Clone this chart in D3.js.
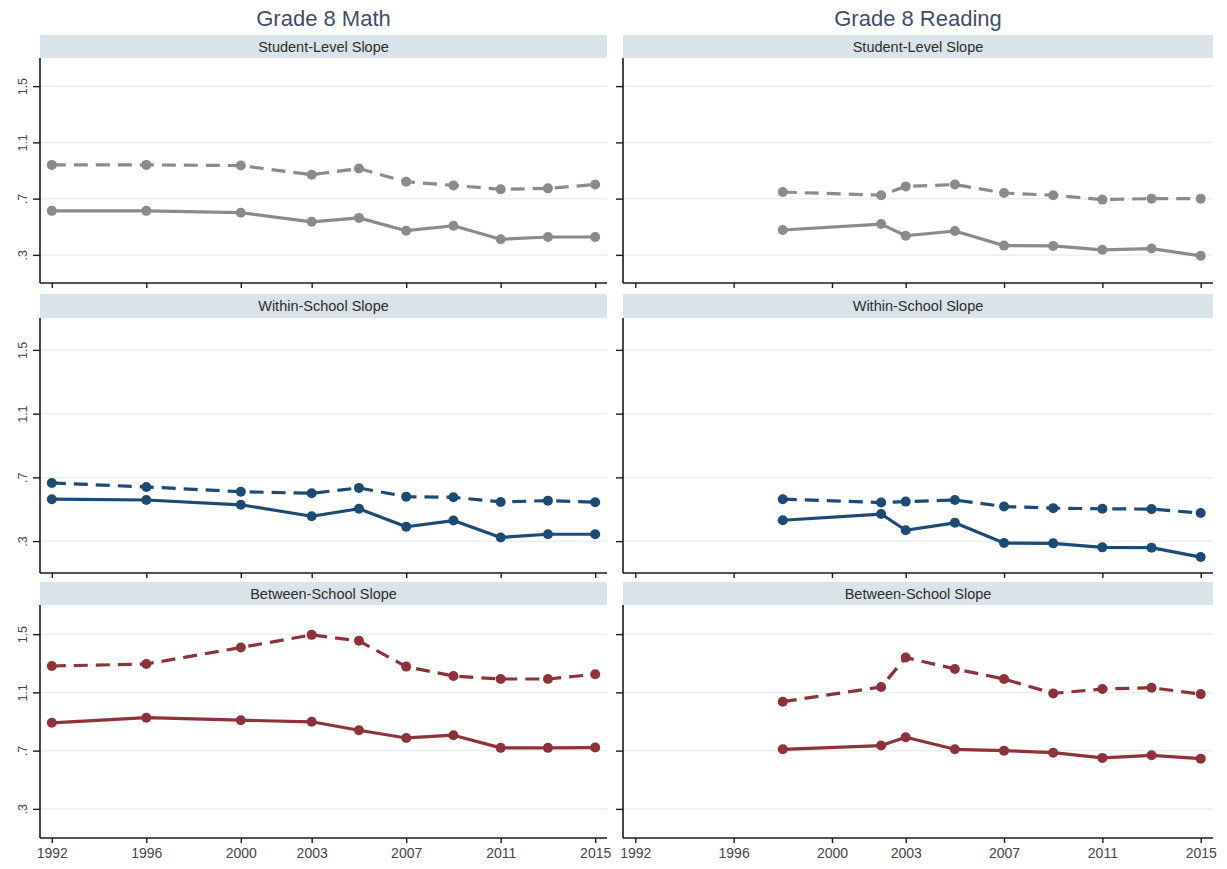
<!DOCTYPE html>
<html>
<head>
<meta charset="utf-8">
<script src="https://cdn.jsdelivr.net/npm/d3@7"></script>
<style>
  html, body { margin: 0; padding: 0; background: #fff; }
  svg { display: block; font-family: "Liberation Sans", Arial, sans-serif; }
</style>
</head>
<body>
<svg id="chart" width="1227" height="869"></svg>
<script>
// ---- data ----
const columns = ["Grade 8 Math", "Grade 8 Reading"];
const measures = ["Student-Level Slope", "Within-School Slope", "Between-School Slope"];
const mathYears = [1992, 1996, 2000, 2003, 2005, 2007, 2009, 2011, 2013, 2015];
const readingYears = [1998, 2002, 2003, 2005, 2007, 2009, 2011, 2013, 2015];
const xTickValues = [1992, 1996, 2000, 2003, 2007, 2011, 2015];
const yTickValues = [0.3, 0.7, 1.1, 1.5];
const yTickLabels = [".3", ".7", "1.1", "1.5"];

const mathStudentDashed = [0.94, 0.94, 0.935, 0.87, 0.914, 0.82, 0.794, 0.766, 0.773, 0.80];
const mathStudentSolid = [0.613, 0.613, 0.60, 0.535, 0.563, 0.472, 0.507, 0.411, 0.427, 0.427];
const readingStudentDashed = [0.747, 0.724, 0.787, 0.80, 0.74, 0.724, 0.693, 0.70, 0.70];
const readingStudentSolid = [0.477, 0.519, 0.436, 0.47, 0.366, 0.364, 0.336, 0.345, 0.293];

const mathWithinDashed = [0.665, 0.64, 0.61, 0.60, 0.634, 0.579, 0.575, 0.546, 0.554, 0.544];
const mathWithinSolid = [0.563, 0.558, 0.528, 0.456, 0.503, 0.39, 0.429, 0.323, 0.343, 0.343];
const readingWithinDashed = [0.563, 0.542, 0.548, 0.558, 0.517, 0.507, 0.503, 0.501, 0.476];
const readingWithinSolid = [0.431, 0.47, 0.368, 0.415, 0.288, 0.286, 0.261, 0.259, 0.20];

const mathBetweenDashed = [1.281, 1.295, 1.408, 1.495, 1.454, 1.277, 1.212, 1.192, 1.192, 1.224];
const mathBetweenSolid = [0.891, 0.926, 0.909, 0.898, 0.84, 0.787, 0.806, 0.719, 0.719, 0.721];
const readingBetweenDashed = [1.036, 1.137, 1.339, 1.261, 1.192, 1.093, 1.123, 1.132, 1.088];
const readingBetweenSolid = [0.709, 0.735, 0.792, 0.709, 0.70, 0.686, 0.65, 0.668, 0.645];

// ---- panel grid ----
const measureColors = ["#8a8a8a", "#1c4a75", "#8e3239"];
const panelSeries = [
  [[mathStudentDashed, mathStudentSolid], [readingStudentDashed, readingStudentSolid]],
  [[mathWithinDashed, mathWithinSolid], [readingWithinDashed, readingWithinSolid]],
  [[mathBetweenDashed, mathBetweenSolid], [readingBetweenDashed, readingBetweenSolid]]
];
const columnYears = [mathYears, readingYears];

const colX = [[40, 607], [623, 1213]];
const rowY = [
  { strip: 35, top: 58, bottom: 283 },
  { strip: 294, top: 318, bottom: 573 },
  { strip: 582, top: 605, bottom: 838 }
];

const svg = d3.select("#chart");

// column titles
columns.forEach((title, c) => {
  svg.append("text")
    .attr("x", (colX[c][0] + colX[c][1]) / 2)
    .attr("y", 26)
    .attr("text-anchor", "middle")
    .attr("font-size", 22)
    .attr("fill", "#3f4d6b")
    .text(title);
});

measures.forEach((measure, r) => {
  const rows = rowY[r];
  columns.forEach((col, c) => {
    const [x0, x1] = colX[c];
    const x = d3.scaleLinear().domain([1991.5, 2015.5]).range([x0, x1]);
    const y = d3.scaleLinear().domain([0.1, 1.7]).range([rows.bottom, rows.top]);
    const g = svg.append("g");

    // strip header
    g.append("rect")
      .attr("x", x0).attr("y", rows.strip)
      .attr("width", x1 - x0).attr("height", rows.top - rows.strip)
      .attr("fill", "#d9e4ea");
    g.append("text")
      .attr("x", (x0 + x1) / 2)
      .attr("y", rows.strip + (rows.top - rows.strip) / 2 + 5)
      .attr("text-anchor", "middle")
      .attr("font-size", 14.5)
      .attr("fill", "#2b2b2b")
      .text(measure);

    // gridlines
    g.append("g")
      .selectAll("line")
      .data(yTickValues)
      .join("line")
      .attr("x1", x0).attr("x2", x1)
      .attr("y1", d => y(d)).attr("y2", d => y(d))
      .attr("stroke", "#e9eef1")
      .attr("stroke-width", 1.5);

    // y axis
    const yAxis = d3.axisLeft(y)
      .tickValues(yTickValues)
      .tickSize(7)
      .tickFormat(c === 0 ? ((d, i) => yTickLabels[i]) : () => "");
    const ya = g.append("g")
      .attr("transform", `translate(${x0},0)`)
      .call(yAxis);
    ya.select(".domain").attr("d", `M0,${rows.top}V${rows.bottom}`)
      .attr("stroke", "#1a1a1a").attr("stroke-width", 1.6);
    ya.selectAll(".tick line").attr("stroke", "#1a1a1a").attr("stroke-width", 1.4);
    ya.selectAll(".tick text")
      .attr("font-size", 12.5)
      .attr("fill", "#444")
      .attr("transform", "rotate(-90)")
      .attr("x", 0)
      .attr("y", -13)
      .attr("dy", 0)
      .attr("text-anchor", "middle");

    // x axis
    const xAxis = d3.axisBottom(x)
      .tickValues(xTickValues)
      .tickSize(5)
      .tickFormat(r === 2 ? d3.format("d") : () => "");
    const xa = g.append("g")
      .attr("transform", `translate(0,${rows.bottom})`)
      .call(xAxis);
    xa.select(".domain").attr("d", `M${x0},0H${x1}`)
      .attr("stroke", "#1a1a1a").attr("stroke-width", 1.6);
    xa.selectAll(".tick line").attr("stroke", "#1a1a1a").attr("stroke-width", 1.4);
    xa.selectAll(".tick text")
      .attr("font-size", 14)
      .attr("fill", "#444")
      .attr("y", 20)
      .attr("dy", 0);
    xa.selectAll(".tick text").attr("y", 20);

    // series: dashed first, then solid
    const years = columnYears[c];
    const color = measureColors[r];
    panelSeries[r][c].forEach((values, s) => {
      const pts = years.map((yr, i) => [yr, values[i]]);
      const line = d3.line().x(d => x(d[0])).y(d => y(d[1]));
      g.append("path")
        .datum(pts)
        .attr("d", line)
        .attr("fill", "none")
        .attr("stroke", color)
        .attr("stroke-width", 3.2)
        .attr("stroke-linejoin", "round")
        .attr("stroke-dasharray", s === 0 ? "14,8" : null);
      g.append("g")
        .selectAll("circle")
        .data(pts)
        .join("circle")
        .attr("cx", d => x(d[0]))
        .attr("cy", d => y(d[1]))
        .attr("r", 5)
        .attr("fill", color);
    });
  });
});
</script>
</body>
</html>
